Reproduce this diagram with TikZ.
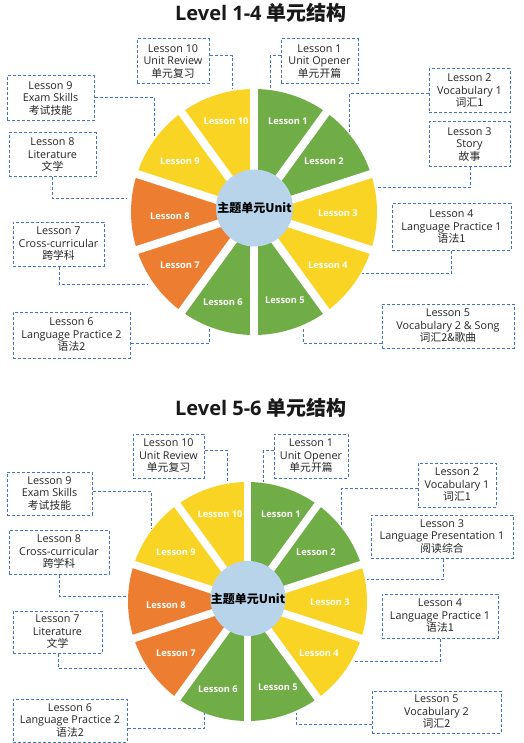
\documentclass[tikz,border=0pt]{standalone}
\usepackage{fontspec}
\setmainfont{Open Sans}
\newfontfamily\cjk{Noto Sans CJK SC}
\definecolor{wgreen}{HTML}{70AD47}
\definecolor{wyellow}{HTML}{FAD424}
\definecolor{worange}{HTML}{ED7D31}
\definecolor{wblue}{HTML}{B7D4EA}
\definecolor{lblue}{HTML}{4472C4}
\newcommand\wheelseg[5]{%
  \fill[#5] (#1,#2) -- ++({-90+36*(#4-1)}:#3) arc[start angle={-90+36*(#4-1)}, end angle={-90+36*#4}, radius=#3] -- cycle;}
\begin{document}
\begin{tikzpicture}[x=1pt,y=-1pt,
  box/.style={draw=lblue, line width=1pt, dash pattern=on 3pt off 2pt, fill=white, inner sep=0pt, align=center,
    font=\fontsize{10.8}{12.5}\selectfont, text=black!85},
  conn/.style={draw=lblue, line width=1pt, dash pattern=on 3pt off 2pt},
  seglabel/.style={text=white, font=\bfseries\fontsize{9.3}{10}\selectfont, inner sep=0pt},
  centre/.style={circle, fill=wblue, inner sep=0pt, font=\cjk\bfseries\fontsize{12}{13}\selectfont},
  title/.style={font=\bfseries\fontsize{20}{22}\selectfont, text=black!90, inner sep=0pt}]
\useasboundingbox (0,0) rectangle (523,743);

% ---------- titles
\node[title] (t1) at (261,13) {Level 1-4 {\cjk\bfseries 单元结构}};
\node[title] (t2) at (261,408) {Level 5-6 {\cjk\bfseries 单元结构}};

% ---------- wheel 1
\foreach \k/\c in {1/wgreen,2/wgreen,3/wyellow,4/wyellow,5/wgreen,6/wgreen,7/worange,8/worange,9/wyellow,10/wyellow}
  {\wheelseg{254}{212}{123}{\k}{\c}}
\foreach \a in {0,...,9}
  \draw[white, line width=8pt] (254,212) -- ++({-90+36*\a}:130);
\node[centre, minimum size=77pt] (c1) at (254.5,208) {主题单元Unit};
\node[seglabel] (s1-1) at (288,121) {Lesson 1};
\node[seglabel] (s1-2) at (324,161) {Lesson 2};
\node[seglabel] (s1-3) at (338,213) {Lesson 3};
\node[seglabel] (s1-4) at (328,265) {Lesson 4};
\node[seglabel] (s1-5) at (285,300) {Lesson 5};
\node[seglabel] (s1-6) at (223,302) {Lesson 6};
\node[seglabel] (s1-7) at (180,265) {Lesson 7};
\node[seglabel] (s1-8) at (170,216) {Lesson 8};
\node[seglabel] (s1-9) at (180,161) {Lesson 9};
\node[seglabel] (s1-10) at (226,121) {Lesson 10};

\node[box, minimum width=72pt, minimum height=45pt] (b1-10) at (173,61.5) {Lesson 10\\Unit Review\\{\cjk 单元复习}};
\node[box, minimum width=77pt, minimum height=45pt] (b1-1) at (319.5,61.5) {Lesson 1\\Unit Opener\\{\cjk 单元开篇}};
\node[box, minimum width=87pt, minimum height=45pt] (b1-9) at (50.5,98.5) {Lesson 9\\Exam Skills\\{\cjk 考试技能}};
\node[box, minimum width=81pt, minimum height=44pt] (b1-2) at (469.5,91) {Lesson 2\\Vocabulary 1\\{\cjk 词汇1}};
\node[box, minimum width=81pt, minimum height=45pt] (b1-3) at (469.5,144.5) {Lesson 3\\Story\\{\cjk 故事}};
\node[box, minimum width=87pt, minimum height=44pt] (b1-8) at (52.5,155) {Lesson 8\\Literature\\{\cjk 文学}};
\node[box, minimum width=91pt, minimum height=44pt] (b1-7) at (58.5,244) {Lesson 7\\Cross-curricular\\{\cjk 跨学科}};
\node[box, minimum width=119pt, minimum height=46pt] (b1-4) at (451.5,227) {Lesson 4\\Language Practice 1\\{\cjk 语法1}};
\node[box, minimum width=117pt, minimum height=46pt] (b1-6) at (71.5,335) {Lesson 6\\Language Practice 2\\{\cjk 语法2}};
\node[box, minimum width=132pt, minimum height=44pt] (b1-5) at (448,326) {Lesson 5\\Vocabulary 2 \& Song\\{\cjk 词汇2\&歌曲}};

\coordinate (k1-10) at (232,56);  \coordinate (e1-10) at (232,89);
\coordinate (k1-1) at (270,56);   \coordinate (e1-1) at (270,90);
\coordinate (k1-9) at (154,98);   \coordinate (e1-9) at (154,136);
\coordinate (k1-2) at (349,94);   \coordinate (e1-2) at (349,133);
\coordinate (k1-3) at (470,188);  \coordinate (e1-3) at (377,188);
\coordinate (k1-8) at (52,199);   \coordinate (e1-8) at (127,199);
\coordinate (k1-7) at (59,284);   \coordinate (e1-7) at (147,284);
\coordinate (k1-4) at (451,273);  \coordinate (e1-4) at (362,273);
\coordinate (k1-6) at (209,343);  \coordinate (e1-6) at (209,327);
\coordinate (k1-5) at (303,343);  \coordinate (e1-5) at (303,327);
\draw[conn] (b1-10.east |- k1-10) -- (k1-10) -- (e1-10);
\draw[conn] (b1-1.west |- k1-1) -- (k1-1) -- (e1-1);
\draw[conn] (b1-9.east |- k1-9) -- (k1-9) -- (e1-9);
\draw[conn] (b1-2.west |- k1-2) -- (k1-2) -- (e1-2);
\draw[conn] (b1-3.south -| k1-3) -- (k1-3) -- (e1-3);
\draw[conn] (b1-8.south -| k1-8) -- (k1-8) -- (e1-8);
\draw[conn] (b1-7.south -| k1-7) -- (k1-7) -- (e1-7);
\draw[conn] (b1-4.south -| k1-4) -- (k1-4) -- (e1-4);
\draw[conn] (b1-6.east |- k1-6) -- (k1-6) -- (e1-6);
\draw[conn] (b1-5.west |- k1-5) -- (k1-5) -- (e1-5);

% ---------- wheel 2
\foreach \k/\c in {1/wgreen,2/wgreen,3/wyellow,4/wyellow,5/wgreen,6/wgreen,7/worange,8/worange,9/wyellow,10/wyellow}
  {\wheelseg{247.5}{601.5}{119.5}{\k}{\c}}
\foreach \a in {0,...,9}
  \draw[white, line width=7.5pt] (247.5,601.5) -- ++({-90+36*\a}:126);
\node[centre, minimum size=74pt] (c2) at (248,598.5) {主题单元Unit};
\node[seglabel] (s2-1) at (281,514) {Lesson 1};
\node[seglabel] (s2-2) at (316,552) {Lesson 2};
\node[seglabel] (s2-3) at (330,602) {Lesson 3};
\node[seglabel] (s2-4) at (319,653) {Lesson 4};
\node[seglabel] (s2-5) at (278,687) {Lesson 5};
\node[seglabel] (s2-6) at (218,689) {Lesson 6};
\node[seglabel] (s2-7) at (176,653) {Lesson 7};
\node[seglabel] (s2-8) at (166,605) {Lesson 8};
\node[seglabel] (s2-9) at (176,552) {Lesson 9};
\node[seglabel] (s2-10) at (220,514) {Lesson 10};

\node[box, minimum width=71pt, minimum height=44pt] (b2-10) at (168.5,456) {Lesson 10\\Unit Review\\{\cjk 单元复习}};
\node[box, minimum width=74pt, minimum height=44pt] (b2-1) at (311,456) {Lesson 1\\Unit Opener\\{\cjk 单元开篇}};
\node[box, minimum width=85pt, minimum height=43pt] (b2-9) at (49.5,493.5) {Lesson 9\\Exam Skills\\{\cjk 考试技能}};
\node[box, minimum width=78pt, minimum height=44pt] (b2-2) at (457,485) {Lesson 2\\Vocabulary 1\\{\cjk 词汇1}};
\node[box, minimum width=142pt, minimum height=43pt] (b2-3) at (442,536.5) {Lesson 3\\Language Presentation 1\\{\cjk 阅读综合}};
\node[box, minimum width=100pt, minimum height=44pt] (b2-8) at (59,552) {Lesson 8\\Cross-curricular\\{\cjk 跨学科}};
\node[box, minimum width=89pt, minimum height=42pt] (b2-7) at (57.5,632) {Lesson 7\\Literature\\{\cjk 文学}};
\node[box, minimum width=116pt, minimum height=44pt] (b2-4) at (440,616) {Lesson 4\\Language Practice 1\\{\cjk 语法1}};
\node[box, minimum width=114pt, minimum height=43pt] (b2-6) at (70,720.5) {Lesson 6\\Language Practice 2\\{\cjk 语法2}};
\node[box, minimum width=129pt, minimum height=42pt] (b2-5) at (436.5,712) {Lesson 5\\Vocabulary 2\\{\cjk 词汇2}};

\coordinate (k2-10) at (227,450);  \coordinate (e2-10) at (227,482);
\coordinate (k2-1) at (263,450);   \coordinate (e2-1) at (263,482);
\coordinate (k2-9) at (151,491);   \coordinate (e2-9) at (151,528);
\coordinate (k2-2) at (341,488);   \coordinate (e2-2) at (341,525);
\coordinate (k2-3) at (443,579);   \coordinate (e2-3) at (367,579);
\coordinate (k2-8) at (59,596);    \coordinate (e2-8) at (127,596);
\coordinate (k2-7) at (58,668);    \coordinate (e2-7) at (145,668);
\coordinate (k2-4) at (440,661);   \coordinate (e2-4) at (353,661);
\coordinate (k2-6) at (204,728);   \coordinate (e2-6) at (204,713);
\coordinate (k2-5) at (296,724);   \coordinate (e2-5) at (296,713);
\draw[conn] (b2-10.east |- k2-10) -- (k2-10) -- (e2-10);
\draw[conn] (b2-1.west |- k2-1) -- (k2-1) -- (e2-1);
\draw[conn] (b2-9.east |- k2-9) -- (k2-9) -- (e2-9);
\draw[conn] (b2-2.west |- k2-2) -- (k2-2) -- (e2-2);
\draw[conn] (b2-3.south -| k2-3) -- (k2-3) -- (e2-3);
\draw[conn] (b2-8.south -| k2-8) -- (k2-8) -- (e2-8);
\draw[conn] (b2-7.south -| k2-7) -- (k2-7) -- (e2-7);
\draw[conn] (b2-4.south -| k2-4) -- (k2-4) -- (e2-4);
\draw[conn] (b2-6.east |- k2-6) -- (k2-6) -- (e2-6);
\draw[conn] (b2-5.west |- k2-5) -- (k2-5) -- (e2-5);
\end{tikzpicture}
\end{document}
